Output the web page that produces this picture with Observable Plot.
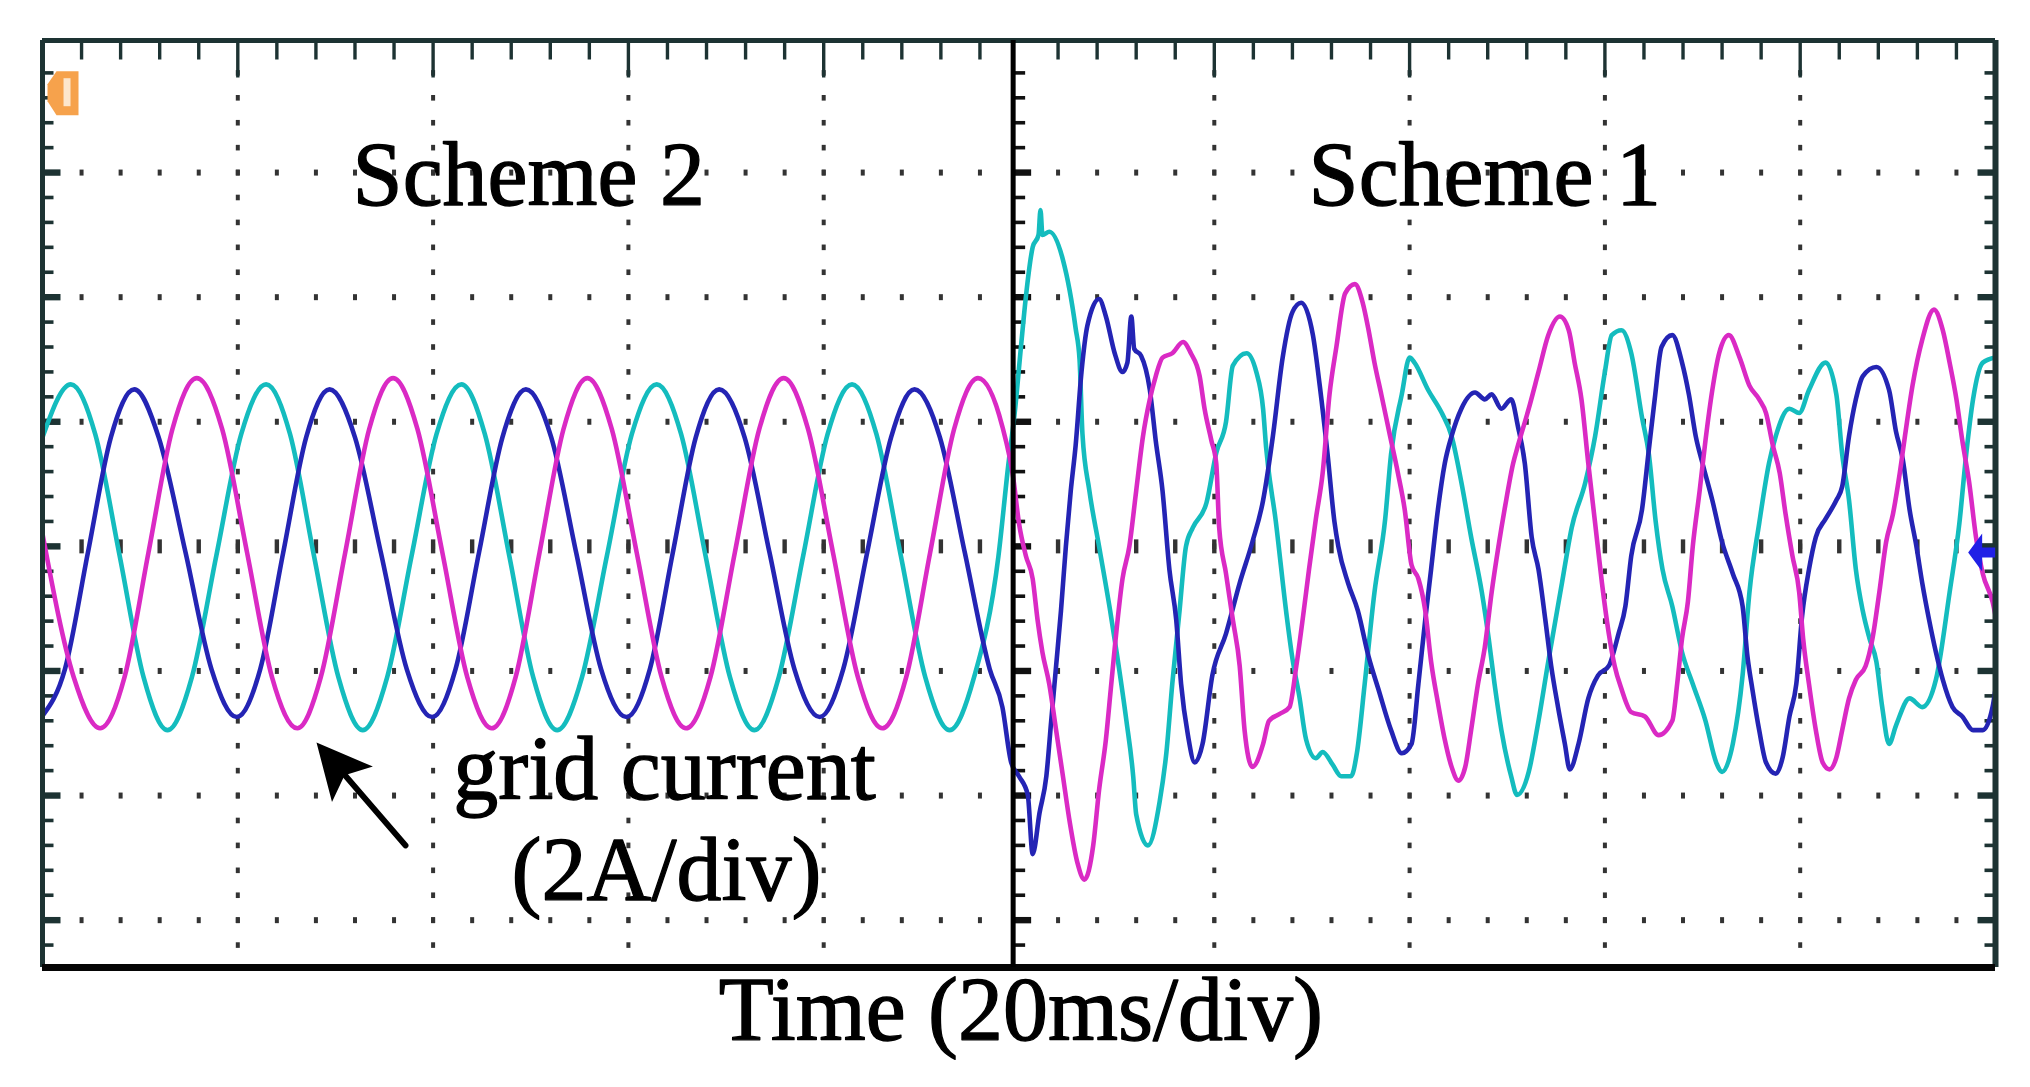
<!DOCTYPE html>
<html>
<head>
<meta charset="utf-8">
<script src="https://cdn.jsdelivr.net/npm/d3@7"></script>
<script src="https://cdn.jsdelivr.net/npm/@observablehq/plot@0.6"></script>
<style>
  html, body { margin: 0; padding: 0; background: #fff; }
  #chart svg { display: block; }
</style>
</head>
<body>
<div id="chart"></div>
<script>
// ---- Data: time in ms (20 ms/div), current in A (2 A/div) ----
const cyanScheme2 = [
  [0,1.75],[2.9,2.6],[5.4,1.8],[7.9,-0.15],[10.35,-2.1],[12.8,-2.95],[15.3,-2.1],[17.8,-0.15],
  [20.35,1.8],[22.9,2.6],[25.35,1.8],[27.8,-0.15],[30.3,-2.1],[32.8,-2.95],[35.3,-2.1],[37.8,-0.15],
  [40.35,1.8],[42.9,2.6],[45.3,1.8],[47.8,-0.15],[50.25,-2.1],[52.7,-2.95],[55.25,-2.1],[57.8,-0.15],
  [60.35,1.8],[62.9,2.6],[65.4,1.8],[67.9,-0.15],[70.4,-2.1],[72.9,-2.95],[75.4,-2.1],[77.9,-0.15],
  [80.4,1.8],[82.9,2.6],[85.4,1.8],[87.9,-0.15],[90.4,-2.1],[92.9,-2.95],[95.4,-2.1],[97.9,-0.15]
];
const cyanScheme1 = [
  [98.9,1.3],[99.6,2.2],[100.2,3.2],[100.7,4.0],[101.4,4.8],[102.0,5.0],[102.2,5.4],[102.4,5.0],[103.1,5.05],
  [104.5,4.6],[105.8,3.5],[106.2,3.0],[106.5,1.8],[107.2,0.9],[108.2,0.0],[109.3,-1.0],[110.0,-1.7],
  [111.0,-2.8],[111.7,-3.7],[112.0,-4.3],[113.2,-4.8],[114.4,-4.1],[115.1,-3.3],[115.7,-2.2],[116.4,-1.1],
  [117.1,0.0],[117.8,0.3],[119.2,0.7],[120.2,1.5],[121.2,2.0],[121.9,2.9],[123.3,3.1],[124.3,2.8],
  [125.0,2.2],[125.3,1.6],[126.3,0.4],[127.4,-1.1],[128.0,-1.8],[128.7,-2.4],[129.4,-3.1],[130.4,-3.4],
  [131.1,-3.3],[132.1,-3.5],[133.0,-3.69],[134.0,-3.69],[134.6,-3.32],[135.4,-2.21],[136.4,-0.74],
  [137.5,0.44],[138.1,1.48],[139.2,2.44],[140.0,3.03],[140.5,2.95],[141.9,2.51],[143.3,2.14],[144.3,1.77],
  [145.3,1.03],[146.3,0.15],[147.4,-0.74],[148.1,-1.48],[148.7,-2.21],[149.4,-2.95],[150.4,-3.69],
  [151.0,-3.99],[152.2,-3.62],[153.2,-2.8],[154.2,-1.85],[155.6,-0.59],[156.6,0.3],[158.0,1.03],
  [159.0,1.77],[160.0,2.8],[160.7,3.39],[161.7,3.47],[162.7,3.1],[163.8,2.07],[164.5,1.48],[165.2,0.4],
  [165.9,-0.37],[166.9,-0.96],[167.9,-1.7],[169.0,-2.21],[170.3,-2.8],[171.4,-3.47],[172.0,-3.62],
  [173.1,-3.17],[174.1,-2.07],[174.8,-0.74],[175.8,0.37],[176.8,1.33],[177.5,1.77],[178.9,2.21],
  [179.9,2.14],[180.9,2.51],[182.6,2.95],[183.7,2.44],[184.3,1.48],[185.0,0.74],[185.7,-0.37],
  [186.4,-1.03],[187.1,-1.48],[187.8,-1.85],[188.4,-2.58],[189.1,-3.17],[189.8,-2.88],[191.2,-2.44],
  [192.5,-2.58],[193.9,-2.14],[195.3,-0.74],[196.3,0.37],[197.0,1.48],[197.7,2.36],[198.7,2.95],[200.0,3.03]
];
const blueScheme2 = [
  [0,-2.72],[2.3,-1.97],[4.65,-0.1],[7.0,1.75],[9.4,2.52],[11.9,1.75],[14.65,-0.1],[17.3,-1.97],
  [19.9,-2.74],[22.3,-1.97],[24.65,-0.1],[27.0,1.75],[29.4,2.52],[32.0,1.75],[34.65,-0.1],[37.3,-1.97],
  [39.9,-2.74],[42.3,-1.97],[44.7,-0.1],[47.1,1.75],[49.5,2.52],[52.1,1.75],[54.65,-0.1],[57.2,-1.97],
  [59.8,-2.74],[62.2,-1.97],[64.55,-0.1],[66.9,1.75],[69.3,2.52],[71.9,1.75],[74.45,-0.1],[77.0,-1.97],
  [79.6,-2.74],[82.0,-1.97],[84.45,-0.1],[86.9,1.75],[89.3,2.52],[91.9,1.75],[94.45,-0.1],[97.0,-1.97]
];
const blueScheme1 = [
  [98.3,-2.58],[99.2,-3.47],[100.0,-3.69],[100.9,-3.99],[101.4,-4.94],[102.1,-4.28],[102.8,-3.69],
  [103.3,-2.8],[103.8,-1.92],[104.3,-1.03],[104.8,0.0],[105.3,0.89],[105.8,1.62],[106.4,2.8],[107.0,3.54],
  [108.2,3.97],[108.9,3.69],[109.8,3.1],[110.6,2.8],[111.1,2.95],[111.5,3.69],[111.8,3.17],[112.5,3.06],
  [113.4,2.51],[114.0,1.7],[114.7,0.89],[115.4,-0.37],[116.1,-1.18],[116.6,-2.21],[117.3,-3.03],
  [118.0,-3.47],[118.8,-3.17],[119.8,-2.07],[121.2,-1.4],[122.6,-0.59],[123.9,0.07],[125.0,0.74],
  [126.0,1.77],[127.0,3.03],[128.0,3.76],[128.9,3.91],[130.1,3.39],[130.8,2.58],[131.6,1.48],[132.3,0.4],
  [132.7,0.0],[133.7,-0.59],[134.7,-1.03],[135.8,-1.77],[136.8,-2.29],[138.1,-2.95],[139.2,-3.32],
  [140.2,-3.17],[140.9,-2.21],[141.6,-1.18],[142.2,-0.37],[142.9,0.59],[143.6,1.33],[144.3,1.77],
  [145.3,2.21],[146.7,2.47],[147.7,2.36],[148.4,2.44],[149.4,2.21],[150.4,2.36],[151.1,1.92],[151.8,1.33],
  [152.5,0.15],[153.2,-0.37],[153.9,-1.18],[154.5,-1.92],[155.2,-2.58],[155.9,-3.17],[156.4,-3.58],
  [157.3,-3.17],[158.3,-2.44],[159.3,-2.07],[160.4,-1.92],[161.4,-1.4],[162.1,-0.96],[162.7,-0.15],
  [163.8,0.59],[164.5,1.55],[165.1,2.36],[165.8,3.2],[166.9,3.39],[167.9,2.95],[168.6,2.44],[169.3,1.77],
  [170.0,1.33],[171.0,0.74],[172.0,0.07],[173.1,-0.44],[174.1,-0.96],[174.6,-1.77],[175.1,-2.29],
  [175.8,-2.95],[176.5,-3.47],[177.5,-3.65],[178.2,-3.39],[178.9,-2.73],[179.6,-2.21],[180.2,-1.11],
  [180.9,-0.37],[181.6,0.15],[182.6,0.44],[183.7,0.74],[184.3,0.96],[185.0,1.77],[185.7,2.36],[186.4,2.73],
  [187.8,2.88],[189.1,2.51],[189.8,1.85],[190.5,1.4],[191.2,0.59],[191.9,0.0],[192.5,-0.59],[193.2,-1.18],
  [193.9,-1.7],[194.6,-2.14],[195.6,-2.58],[196.6,-2.73],[197.7,-2.95],[198.7,-2.95],[199.7,-2.58],[200.0,-2.29]
];
const magentaScheme2 = [
  [0,0.2],[3.2,-2.1],[5.9,-2.92],[8.4,-2.1],[10.85,-0.1],[13.3,1.88],[15.8,2.7],[18.4,1.88],
  [20.95,-0.1],[23.5,-2.1],[26.1,-2.92],[28.5,-2.1],[31.0,-0.1],[33.45,1.88],[35.9,2.7],[38.4,1.88],
  [40.95,-0.1],[43.5,-2.1],[46.0,-2.92],[48.45,-2.1],[50.9,-0.1],[53.35,1.88],[55.8,2.7],[58.3,1.88],
  [60.85,-0.1],[63.4,-2.1],[65.9,-2.92],[68.4,-2.1],[70.9,-0.1],[73.4,1.88],[75.9,2.7],[78.4,1.88],
  [80.95,-0.1],[83.5,-2.1],[86.0,-2.92],[88.45,-2.1],[90.9,-0.1],[93.35,1.88],[95.8,2.7]
];
const magentaScheme1 = [
  [98.3,1.92],[99.4,1.11],[100.0,0.37],[100.7,-0.15],[101.4,-0.52],[101.9,-1.18],[102.4,-1.7],[103.1,-2.21],
  [103.8,-2.95],[104.5,-3.69],[105.2,-4.43],[106.0,-5.09],[106.7,-5.35],[107.6,-4.8],[108.2,-3.91],
  [108.9,-3.1],[109.4,-2.29],[109.9,-1.48],[110.6,-0.52],[111.3,0.0],[112.0,0.89],[112.7,1.77],[113.4,2.36],
  [114.0,2.73],[114.7,3.03],[115.7,3.1],[116.8,3.28],[117.6,3.1],[118.5,2.73],[119.0,2.21],[119.7,1.7],
  [120.2,1.33],[120.5,0.3],[121.2,-0.44],[121.9,-1.18],[122.6,-1.92],[123.1,-2.95],[123.9,-3.54],
  [125.0,-3.17],[125.6,-2.8],[126.7,-2.69],[127.7,-2.58],[128.4,-1.92],[129.1,-1.11],[129.7,-0.37],
  [130.4,0.44],[131.1,1.18],[131.8,2.44],[132.5,3.2],[133.4,4.06],[134.4,4.21],[135.2,3.91],[135.8,3.47],
  [136.4,2.95],[137.1,2.44],[138.0,1.77],[138.8,1.18],[139.5,0.59],[140.2,-0.3],[140.9,-0.52],[141.6,-1.03],
  [142.2,-1.85],[142.9,-2.51],[143.6,-3.1],[144.3,-3.54],[145.0,-3.76],[145.7,-3.54],[146.3,-2.95],
  [147.0,-2.21],[147.7,-1.62],[148.4,-0.74],[149.1,0.0],[149.8,0.66],[150.6,1.33],[151.1,1.62],[152.2,2.21],
  [153.2,2.8],[154.2,3.39],[155.4,3.69],[156.3,3.47],[156.9,2.95],[157.6,2.36],[158.3,1.33],[159.0,0.37],
  [159.7,-0.59],[160.4,-1.4],[161.0,-1.92],[161.7,-2.29],[162.7,-2.66],[164.1,-2.73],[165.5,-3.03],
  [166.9,-2.8],[167.4,-2.21],[167.9,-1.48],[168.5,-0.89],[169.0,0.0],[169.7,0.89],[170.3,1.7],[171.0,2.51],
  [171.7,3.1],[172.7,3.39],[173.8,3.03],[174.8,2.58],[175.8,2.36],[176.5,2.14],[177.2,1.62],[177.9,1.18],
  [178.5,0.52],[179.2,-0.15],[179.9,-0.74],[180.3,-1.48],[180.9,-2.21],[181.6,-2.95],[182.3,-3.47],
  [183.0,-3.58],[183.7,-3.39],[184.3,-2.95],[185.0,-2.44],[185.7,-2.14],[186.7,-1.92],[187.4,-1.48],
  [188.1,-0.74],[188.8,0.07],[189.5,0.52],[190.2,1.18],[190.8,1.85],[191.5,2.58],[192.5,3.32],[193.7,3.8],
  [194.6,3.47],[195.3,2.95],[196.0,2.36],[196.6,1.7],[197.3,1.03],[198.0,0.15],[198.7,-0.44],[199.7,-0.89],[200.0,-1.11]
];

const sectionLabels = ["Scheme 2", "Scheme 1"];
const signalLabels = ["grid current", "(2A/div)"];
const axisLabel = "Time (20ms/div)";

// ---- Layout ----
const W = 2030, H = 1087;
const T0 = 0, T1 = 200, I0 = -6.76, I1 = 8.12;
const divider = 99.4;
const FRAME = "#1d3333", GRID = "#333";
const CYAN = "#14bcbe", BLUE = "#2424b4", MAGENTA = "#da2ac4";
const FONT = "'Liberation Serif', 'Times New Roman', serif";

// custom symbol helpers
function poly(pts) {
  return { draw(ctx) { ctx.moveTo(pts[0][0], pts[0][1]); for (let k = 1; k < pts.length; k++) ctx.lineTo(pts[k][0], pts[k][1]); ctx.closePath(); } };
}
function rect(x0, y0, x1, y1) { return poly([[x0,y0],[x1,y0],[x1,y1],[x0,y1]]); }
function rotated(pts, deg) {
  const a = deg * Math.PI / 180, c = Math.cos(a), s = Math.sin(a);
  return pts.map(([x, y]) => [x * c - y * s, x * s + y * c]);
}

// graticule structure (10 x 8 div, 5 subdivisions)
const minorT = d3.range(1, 50).map(k => k * 4).filter(t => t !== 100);
const majorT = [20, 40, 60, 80, 120, 140, 160, 180];
const minorI = d3.range(-16, 20).map(k => Math.round(k * 4) / 10);
const rowI = [-6, -4, -2, 2, 4, 6];
const isRow = v => Math.abs(v / 2 - Math.round(v / 2)) < 1e-6;

const vDots = majorT.flatMap(t => minorI.map(i => [t, i]));
const hDots = rowI.flatMap(i => minorT.map(t => [t, i]));
const cDots = minorT.map(t => [t, 0]);
const topMinor = minorT.filter(t => !majorT.includes(t)).map(t => [t, I1]);
const topMajor = majorT.map(t => [t, I1]);
const sideMinor = minorI.filter(i => !isRow(i));
const sideMajor = minorI.filter(i => isRow(i));

const dotOpts = (sym, fill) => ({ x: d => d[0], y: d => d[1], r: 1, symbol: sym, fill, stroke: "none" });

const lineOpts = (color) => ({ x: d => d[0], y: d => d[1], stroke: color, strokeWidth: 4.6, curve: "monotone-x", strokeLinejoin: "round", strokeLinecap: "round" });
const textOpts = (x, y) => ({ x, y, text: d => d, fontFamily: FONT, fontSize: 90, fill: "#000", stroke: "#000", strokeWidth: 1.3, textAnchor: "middle" });

// arrow geometry (data coords)
const arrowTail = [37.17, -4.80], arrowTip = [28.06, -3.15], arrowBase = [30.9, -3.66];
const headPts = rotated([[0, 0], [-27, 55], [0, 43], [27, 55]], -40.8);

const chart = Plot.plot({
  width: W, height: H,
  marginLeft: 42, marginRight: 35, marginTop: 40, marginBottom: 120,
  x: { domain: [T0, T1], axis: null },
  y: { domain: [I0, I1], axis: null },
  style: { background: "white", overflow: "visible" },
  marks: [
    // graticule dots
    Plot.dot(vDots, dotOpts(rect(-2, -2.8, 2, 2.8), GRID)),
    Plot.dot(hDots, dotOpts(rect(-2, -3, 2, 3), GRID)),
    Plot.dot(cDots, dotOpts(rect(-2.2, -7, 2.2, 7), GRID)),
    // frame ticks
    Plot.dot(topMinor, dotOpts(rect(-1.7, 0, 1.7, 19), FRAME)),
    Plot.dot(topMajor, dotOpts(rect(-1.7, 0, 1.7, 37), FRAME)),
    Plot.dot(sideMinor.map(i => [T0, i]), dotOpts(rect(0, -1.8, 11, 1.8), FRAME)),
    Plot.dot(sideMajor.map(i => [T0, i]), dotOpts(rect(0, -3.2, 18, 3.2), FRAME)),
    Plot.dot(sideMinor.map(i => [T1, i]), dotOpts(rect(-11, -1.8, 0, 1.8), FRAME)),
    Plot.dot(sideMajor.map(i => [T1, i]), dotOpts(rect(-18, -3.2, 0, 3.2), FRAME)),
    Plot.dot(sideMinor.map(i => [divider, i]), dotOpts(rect(0, -1.8, 12, 1.8), "#111")),
    Plot.dot(sideMajor.map(i => [divider, i]), dotOpts(rect(0, -3.2, 18, 3.2), "#111")),
    // waveforms
    Plot.line([...cyanScheme2, ...cyanScheme1], lineOpts(CYAN)),
    Plot.line([...blueScheme2, ...blueScheme1], lineOpts(BLUE)),
    Plot.line([...magentaScheme2, ...magentaScheme1], lineOpts(MAGENTA)),
    // frame
    Plot.ruleX([T0], { stroke: FRAME, strokeWidth: 5 }),
    Plot.ruleX([T1], { stroke: FRAME, strokeWidth: 6 }),
    Plot.ruleY([I1], { stroke: FRAME, strokeWidth: 5 }),
    Plot.ruleY([I0], { stroke: "#050505", strokeWidth: 7 }),
    Plot.ruleX([divider], { stroke: "#000", strokeWidth: 5 }),
    // channel markers
    Plot.dot([[2.05, 7.29]], dotOpts(poly([[-6,-21],[16,-21],[16,23],[-6,23],[-15,9],[-15,-8]]), "#f6a24c")),
    Plot.dot([[2.05, 7.29]], dotOpts(poly([[1,-14],[8,-14],[8,14],[1,14]]), "#fde6cc")),
    Plot.dot([[197.2, -0.1]], dotOpts(poly([[0,0],[14,-19],[14,-5],[27,-5],[27,5],[14,5],[14,19]]), "#2020e6")),
    // annotation arrow
    Plot.link([[arrowTail, arrowBase]], { x1: d => d[0][0], y1: d => d[0][1], x2: d => d[1][0], y2: d => d[1][1], stroke: "#000", strokeWidth: 6, strokeLinecap: "round" }),
    Plot.dot([arrowTip], dotOpts(poly(headPts), "#000")),
    // texts
    Plot.text([sectionLabels[0]], textOpts(49.8, 5.94)),
    Plot.text([sectionLabels[1]], textOpts(147.7, 5.94)),
    Plot.text([signalLabels[0]], textOpts(63.7, -3.6)),
    Plot.text([signalLabels[1]], textOpts(63.9, -5.22)),
    Plot.text([axisLabel], textOpts(100.2, -7.46))
  ]
});
document.getElementById("chart").appendChild(chart);
</script>
</body>
</html>
